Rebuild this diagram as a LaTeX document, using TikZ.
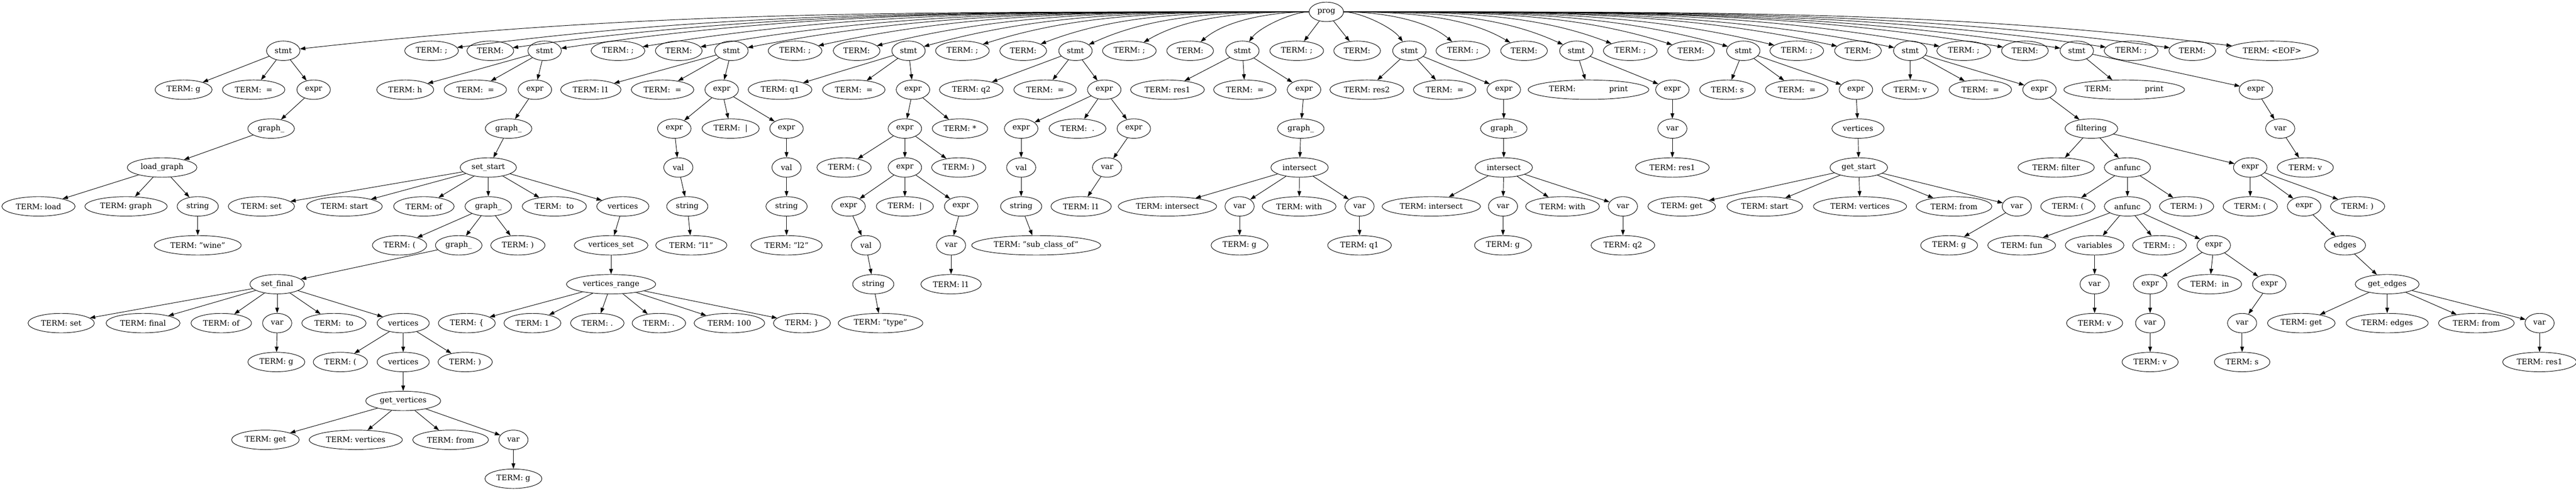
\documentclass[tikz,border=0pt]{standalone}
\usepackage{fontspec}
\setmainfont{DejaVu Serif}
\usetikzlibrary{arrows.meta,shapes.geometric,calc}

\begin{document}
\begin{tikzpicture}[line cap=round,line join=round,>={Triangle[length=10pt,width=7pt]},x=0.75pt,y=-72pt,
  tn/.style={ellipse,draw,line width=0.9pt,minimum width=54pt,minimum height=36pt,inner xsep=6pt,inner ysep=2pt,font=\fontsize{14}{17}\selectfont},
  ed/.style={->,line width=0.9pt}]

\useasboundingbox (0,-0.3056) rectangle (6357,12.3056);

% root and top row
\node[tn] (p) at (3273,0) {prog};
\node[tn] (s1) at (699,1) {stmt};
\node[tn] (sc1) at (1065,1) {TERM: ;};
\node[tn] (nl1) at (1210,1) {TERM:};
\node[tn] (s2) at (1344,1) {stmt};
\node[tn] (sc2) at (1525,1) {TERM: ;};
\node[tn] (nl2) at (1675,1) {TERM:};
\node[tn] (s3) at (1805,1) {stmt};
\node[tn] (sc3) at (1962,1) {TERM: ;};
\node[tn] (nl3) at (2114,1) {TERM:};
\node[tn] (s4) at (2242,1) {stmt};
\node[tn] (sc4) at (2375,1) {TERM: ;};
\node[tn] (nl4) at (2525,1) {TERM:};
\node[tn] (s5) at (2654,1) {stmt};
\node[tn] (sc5) at (2787,1) {TERM: ;};
\node[tn] (nl5) at (2937,1) {TERM:};
\node[tn] (s6) at (3066,1) {stmt};
\node[tn] (sc6) at (3200,1) {TERM: ;};
\node[tn] (nl6) at (3349,1) {TERM:};
\node[tn] (s7) at (3478,1) {stmt};
\node[tn] (sc7) at (3610,1) {TERM: ;};
\node[tn] (nl7) at (3761,1) {TERM:};
\node[tn] (s8) at (3890,1) {stmt};
\node[tn] (sc8) at (4023,1) {TERM: ;};
\node[tn] (nl8) at (4173,1) {TERM:};
\node[tn] (s9) at (4302,1) {stmt};
\node[tn] (sc9) at (4434,1) {TERM: ;};
\node[tn] (nl9) at (4585,1) {TERM:};
\node[tn] (s10) at (4714,1) {stmt};
\node[tn] (sc10) at (4846,1) {TERM: ;};
\node[tn] (nl10) at (4997,1) {TERM:};
\node[tn] (s11) at (5125,1) {stmt};
\node[tn] (sc11) at (5259,1) {TERM: ;};
\node[tn] (nl11) at (5410,1) {TERM:};
\node[tn] (eof) at (5607,1) {TERM: <EOF>};

% stmt 1
\node[tn] (a1) at (453,2) {TERM: g};
\node[tn] (a2) at (626,2) {TERM:\ \ =};
\node[tn] (a3) at (774,2) {expr};
\node[tn] (a4) at (669,3) {graph\_};
\node[tn] (a5) at (400,4) {load\_graph};
\node[tn] (a6) at (95,5) {TERM: load};
\node[tn] (a7) at (311,5) {TERM: graph};
\node[tn] (a8) at (488,5) {string};
\node[tn] (a9) at (488,6) {TERM: "wine"};

% stmt 2
\node[tn] (b1) at (1000,2) {TERM: h};
\node[tn] (b2) at (1173,2) {TERM:\ \ =};
\node[tn] (b3) at (1320,2) {expr};
\node[tn] (b4) at (1255,3) {graph\_};
\node[tn] (b5) at (1205,4) {set\_start};
\node[tn] (b6) at (645,5) {TERM: set};
\node[tn] (b7) at (850,5) {TERM: start};
\node[tn] (b8) at (1046,5) {TERM: of};
\node[tn] (b9) at (1205,5) {graph\_};
\node[tn] (b10) at (1368,5) {TERM:\ \ to};
\node[tn] (b11) at (1537,5) {vertices};
\node[tn] (b12) at (986,6) {TERM: (};
\node[tn] (b13) at (1132,6) {graph\_};
\node[tn] (b14) at (1278,6) {TERM: )};
\node[tn] (b15) at (1508,6) {vertices\_set};
\node[tn] (b16) at (684,7) {set\_final};
\node[tn] (b17) at (1508,7) {vertices\_range};
\node[tn] (b18) at (151,8) {TERM: set};
\node[tn] (b19) at (353,8) {TERM: final};
\node[tn] (b20) at (546,8) {TERM: of};
\node[tn] (b21) at (684,8) {var};
\node[tn] (b22) at (824,8) {TERM:\ \ to};
\node[tn] (b23) at (995,8) {vertices};
\node[tn] (b24) at (1152,8) {TERM: \{};
\node[tn] (b25) at (1314,8) {TERM: 1};
\node[tn] (b26) at (1474,8) {TERM: .};
\node[tn] (b27) at (1626,8) {TERM: .};
\node[tn] (b28) at (1800,8) {TERM: 100};
\node[tn] (b29) at (1979,8) {TERM: \}};
\node[tn] (b30) at (682,9) {TERM: g};
\node[tn] (b31) at (840,9) {TERM: (};
\node[tn] (b32) at (995,9) {vertices};
\node[tn] (b33) at (1148,9) {TERM: )};
\node[tn] (b34) at (995,10) {get\_vertices};
\node[tn] (b35) at (655,11) {TERM: get};
\node[tn] (b36) at (878,11) {TERM: vertices};
\node[tn] (b37) at (1112,11) {TERM: from};
\node[tn] (b38) at (1267,11) {var};
\node[tn] (b39) at (1267,12) {TERM: g};

% stmt 3
\node[tn] (c1) at (1458,2) {TERM: l1};
\node[tn] (c2) at (1635,2) {TERM:\ \ =};
\node[tn] (c3) at (1781,2) {expr};
\node[tn] (c4) at (1664,3) {expr};
\node[tn] (c5) at (1803,3) {TERM:\ \ |};
\node[tn] (c6) at (1941,3) {expr};
\node[tn] (c7) at (1674,4) {val};
\node[tn] (c8) at (1941,4) {val};
\node[tn] (c9) at (1696,5) {string};
\node[tn] (c10) at (1941,5) {string};
\node[tn] (c11) at (1706,6) {TERM: "l1"};
\node[tn] (c12) at (1941,6) {TERM: "l2"};

% stmt 4
\node[tn] (d1) at (1925,2) {TERM: q1};
\node[tn] (d2) at (2107,2) {TERM:\ \ =};
\node[tn] (d3) at (2253,2) {expr};
\node[tn] (d4) at (2233,3) {expr};
\node[tn] (d5) at (2369,3) {TERM: *};
\node[tn] (d6) at (2083,4) {TERM: (};
\node[tn] (d7) at (2233,4) {expr};
\node[tn] (d8) at (2366,4) {TERM: )};
\node[tn] (d9) at (2094,5) {expr};
\node[tn] (d10) at (2233,5) {TERM:\ \ |};
\node[tn] (d11) at (2372,5) {expr};
\node[tn] (d12) at (2137,6) {val};
\node[tn] (d13) at (2347,6) {var};
\node[tn] (d14) at (2155,7) {string};
\node[tn] (d15) at (2347,7) {TERM: l1};
\node[tn] (d16) at (2173,8) {TERM: "type"};

% stmt 5
\node[tn] (e1) at (2397,2) {TERM: q2};
\node[tn] (e2) at (2579,2) {TERM:\ \ =};
\node[tn] (e3) at (2725,2) {expr};
\node[tn] (e4) at (2520,3) {expr};
\node[tn] (e5) at (2659,3) {TERM:\ \ .};
\node[tn] (e6) at (2798,3) {expr};
\node[tn] (e7) at (2520,4) {val};
\node[tn] (e8) at (2732,4) {var};
\node[tn] (e9) at (2520,5) {string};
\node[tn] (e10) at (2668,5) {TERM: l1};
\node[tn] (e11) at (2557,6) {TERM: "sub\_class\_of"};

% stmt 6
\node[tn] (f1) at (2881,2) {TERM: res1};
\node[tn] (f2) at (3072,2) {TERM:\ \ =};
\node[tn] (f3) at (3218,2) {expr};
\node[tn] (f4) at (3210,3) {graph\_};
\node[tn] (f5) at (3207,4) {intersect};
\node[tn] (f6) at (2881,5) {TERM: intersect};
\node[tn] (f7) at (3059,5) {var};
\node[tn] (f8) at (3206,5) {TERM: with};
\node[tn] (f9) at (3355,5) {var};
\node[tn] (f10) at (3059,6) {TERM: g};
\node[tn] (f11) at (3355,6) {TERM: q1};

% stmt 7
\node[tn] (g1) at (3373,2) {TERM: res2};
\node[tn] (g2) at (3565,2) {TERM:\ \ =};
\node[tn] (g3) at (3711,2) {expr};
\node[tn] (g4) at (3711,3) {graph\_};
\node[tn] (g5) at (3711,4) {intersect};
\node[tn] (g6) at (3532,5) {TERM: intersect};
\node[tn] (g7) at (3709,5) {var};
\node[tn] (g8) at (3856,5) {TERM: with};
\node[tn] (g9) at (4005,5) {var};
\node[tn] (g10) at (3709,6) {TERM: g};
\node[tn] (g11) at (4005,6) {TERM: q2};

% stmt 8
\node[tn] (h1) at (3920,2) {TERM:\hspace{62pt}print};
\node[tn] (h2) at (4127,2) {expr};
\node[tn] (h3) at (4127,3) {var};
\node[tn] (h4) at (4127,4) {TERM: res1};

% stmt 9
\node[tn] (k1) at (4263,2) {TERM: s};
\node[tn] (k2) at (4434,2) {TERM:\ \ =};
\node[tn] (k3) at (4580,2) {expr};
\node[tn] (k4) at (4585,3) {vertices};
\node[tn] (k5) at (4587,4) {get\_start};
\node[tn] (k6) at (4150,5) {TERM: get};
\node[tn] (k7) at (4355,5) {TERM: start};
\node[tn] (k8) at (4590,5) {TERM: vertices};
\node[tn] (k9) at (4822,5) {TERM: from};
\node[tn] (k10) at (4977,5) {var};
\node[tn] (k11) at (4810,6) {TERM: g};

% stmt 10
\node[tn] (m1) at (4714,2) {TERM: v};
\node[tn] (m2) at (4887,2) {TERM:\ \ =};
\node[tn] (m3) at (5033,2) {expr};
\node[tn] (m4) at (5161,3) {filtering};
\node[tn] (m5) at (5074,4) {TERM: filter};
\node[tn] (m6) at (5250,4) {anfunc};
\node[tn] (m7) at (5553,4) {expr};
\node[tn] (m8) at (5103,5) {TERM: (};
\node[tn] (m9) at (5250,5) {anfunc};
\node[tn] (m10) at (5396,5) {TERM: )};
\node[tn] (m11) at (5553,5) {TERM: (};
\node[tn] (m12) at (5686,5) {expr};
\node[tn] (m13) at (5818,5) {TERM: )};
\node[tn] (m14) at (4989,6) {TERM: fun};
\node[tn] (m15) at (5169,6) {variables};
\node[tn] (m16) at (5329,6) {TERM: :};
\node[tn] (m17) at (5463,6) {expr};
\node[tn] (m18) at (5787,6) {edges};
\node[tn] (m19) at (5169,7) {var};
\node[tn] (m20) at (5306,7) {expr};
\node[tn] (m21) at (5453,7) {TERM:\ \ in};
\node[tn] (m22) at (5600,7) {expr};
\node[tn] (m23) at (5891,7) {get\_edges};
\node[tn] (m24) at (5169,8) {TERM: v};
\node[tn] (m25) at (5306,8) {var};
\node[tn] (m26) at (5533,8) {var};
\node[tn] (m27) at (5679,8) {TERM: get};
\node[tn] (m28) at (5891,8) {TERM: edges};
\node[tn] (m29) at (6111,8) {TERM: from};
\node[tn] (m30) at (6267,8) {var};
\node[tn] (m31) at (5306,9) {TERM: v};
\node[tn] (m32) at (5533,9) {TERM: s};
\node[tn] (m33) at (6267,9) {TERM: res1};

% stmt 11
\node[tn] (n1) at (5242,2) {TERM:\hspace{62pt}print};
\node[tn] (n2) at (5567,2) {expr};
\node[tn] (n3) at (5627,3) {var};
\node[tn] (n4) at (5689,4) {TERM: v};

% edges from the root
\draw[ed] (p) .. controls ($(p)+(-772pt,0pt)$) and ($(s1)+(672pt,75pt)$) .. (s1);
\draw[ed] (p) .. controls ($(p)+(-662pt,0pt)$) and ($(sc1)+(575pt,75pt)$) .. (sc1);
\draw[ed] (p) .. controls ($(p)+(-619pt,0pt)$) and ($(nl1)+(536pt,74pt)$) .. (nl1);
\draw[ed] (p) .. controls ($(p)+(-579pt,0pt)$) and ($(s2)+(500pt,75pt)$) .. (s2);
\draw[ed] (p) .. controls ($(p)+(-524pt,0pt)$) and ($(sc2)+(453pt,75pt)$) .. (sc2);
\draw[ed] (p) .. controls ($(p)+(-479pt,0pt)$) and ($(nl2)+(412pt,74pt)$) .. (nl2);
\draw[ed] (p) .. controls ($(p)+(-440pt,0pt)$) and ($(s3)+(378pt,74pt)$) .. (s3);
\draw[ed] (p) .. controls ($(p)+(-393pt,0pt)$) and ($(sc3)+(336pt,74pt)$) .. (sc3);
\draw[ed] (p) .. controls ($(p)+(-348pt,0pt)$) and ($(nl3)+(295pt,74pt)$) .. (nl3);
\draw[ed] (p) .. controls ($(p)+(-309pt,0pt)$) and ($(s4)+(261pt,73pt)$) .. (s4);
\draw[ed] (p) .. controls ($(p)+(-269pt,0pt)$) and ($(sc4)+(225pt,72pt)$) .. (sc4);
\draw[ed] (p) .. controls ($(p)+(-224pt,0pt)$) and ($(nl4)+(183pt,71pt)$) .. (nl4);
\draw[ed] (p) .. controls ($(p)+(-186pt,0pt)$) and ($(s5)+(147pt,68pt)$) .. (s5);
\draw[ed] (p) .. controls ($(p)+(-146pt,0pt)$) and ($(sc5)+(110pt,65pt)$) .. (sc5);
\draw[ed] (p) .. controls ($(p)+(-101pt,0pt)$) and ($(nl5)+(67pt,57pt)$) .. (nl5);
\draw[ed] (p) .. controls ($(p)+(-62pt,0pt)$) and ($(s6)+(32pt,44pt)$) .. (s6);
\draw[ed] (p) -- (sc6);
\draw[ed] (p) -- (nl6);
\draw[ed] (p) .. controls ($(p)+(62pt,0pt)$) and ($(s7)+(-32pt,44pt)$) .. (s7);
\draw[ed] (p) .. controls ($(p)+(101pt,0pt)$) and ($(sc7)+(-67pt,57pt)$) .. (sc7);
\draw[ed] (p) .. controls ($(p)+(146pt,0pt)$) and ($(nl7)+(-110pt,65pt)$) .. (nl7);
\draw[ed] (p) .. controls ($(p)+(185pt,0pt)$) and ($(s8)+(-147pt,68pt)$) .. (s8);
\draw[ed] (p) .. controls ($(p)+(225pt,0pt)$) and ($(sc8)+(-184pt,71pt)$) .. (sc8);
\draw[ed] (p) .. controls ($(p)+(270pt,0pt)$) and ($(nl8)+(-225pt,72pt)$) .. (nl8);
\draw[ed] (p) .. controls ($(p)+(309pt,0pt)$) and ($(s9)+(-260pt,73pt)$) .. (s9);
\draw[ed] (p) .. controls ($(p)+(348pt,0pt)$) and ($(sc9)+(-296pt,73pt)$) .. (sc9);
\draw[ed] (p) .. controls ($(p)+(394pt,0pt)$) and ($(nl9)+(-336pt,74pt)$) .. (nl9);
\draw[ed] (p) .. controls ($(p)+(432pt,0pt)$) and ($(s10)+(-371pt,74pt)$) .. (s10);
\draw[ed] (p) .. controls ($(p)+(472pt,0pt)$) and ($(sc10)+(-406pt,75pt)$) .. (sc10);
\draw[ed] (p) .. controls ($(p)+(517pt,0pt)$) and ($(nl10)+(-446pt,75pt)$) .. (nl10);
\draw[ed] (p) .. controls ($(p)+(556pt,0pt)$) and ($(s11)+(-480pt,74pt)$) .. (s11);
\draw[ed] (p) .. controls ($(p)+(596pt,0pt)$) and ($(sc11)+(-516pt,74pt)$) .. (sc11);
\draw[ed] (p) .. controls ($(p)+(641pt,0pt)$) and ($(nl11)+(-556pt,75pt)$) .. (nl11);
\draw[ed] (p) .. controls ($(p)+(700pt,0pt)$) and ($(eof)+(-608pt,75pt)$) .. (eof);

\path (s1) edge[ed] (a1) edge[ed] (a2) edge[ed] (a3);
\draw[ed] (a3) -- (a4);
\draw[ed] (a4) -- (a5);
\path (a5) edge[ed] (a6) edge[ed] (a7) edge[ed] (a8);
\draw[ed] (a8) -- (a9);

\path (s2) edge[ed] (b1) edge[ed] (b2) edge[ed] (b3);
\draw[ed] (b3) -- (b4);
\draw[ed] (b4) -- (b5);
\path (b5) edge[ed] (b6) edge[ed] (b7) edge[ed] (b8) edge[ed] (b9) edge[ed] (b10) edge[ed] (b11);
\path (b9) edge[ed] (b12) edge[ed] (b13) edge[ed] (b14);
\draw[ed] (b13) -- (b16);
\path (b16) edge[ed] (b18) edge[ed] (b19) edge[ed] (b20) edge[ed] (b21) edge[ed] (b22) edge[ed] (b23);
\draw[ed] (b21) -- (b30);
\path (b23) edge[ed] (b31) edge[ed] (b32) edge[ed] (b33);
\draw[ed] (b32) -- (b34);
\path (b34) edge[ed] (b35) edge[ed] (b36) edge[ed] (b37) edge[ed] (b38);
\draw[ed] (b38) -- (b39);
\draw[ed] (b11) -- (b15);
\draw[ed] (b15) -- (b17);
\path (b17) edge[ed] (b24) edge[ed] (b25) edge[ed] (b26) edge[ed] (b27) edge[ed] (b28) edge[ed] (b29);

\path (s3) edge[ed] (c1) edge[ed] (c2) edge[ed] (c3);
\path (c3) edge[ed] (c4) edge[ed] (c5) edge[ed] (c6);
\draw[ed] (c4) -- (c7);
\draw[ed] (c7) -- (c9);
\draw[ed] (c9) -- (c11);
\draw[ed] (c6) -- (c8);
\draw[ed] (c8) -- (c10);
\draw[ed] (c10) -- (c12);

\path (s4) edge[ed] (d1) edge[ed] (d2) edge[ed] (d3);
\path (d3) edge[ed] (d4) edge[ed] (d5);
\path (d4) edge[ed] (d6) edge[ed] (d7) edge[ed] (d8);
\path (d7) edge[ed] (d9) edge[ed] (d10) edge[ed] (d11);
\draw[ed] (d9) -- (d12);
\draw[ed] (d12) -- (d14);
\draw[ed] (d14) -- (d16);
\draw[ed] (d11) -- (d13);
\draw[ed] (d13) -- (d15);

\path (s5) edge[ed] (e1) edge[ed] (e2) edge[ed] (e3);
\path (e3) edge[ed] (e4) edge[ed] (e5) edge[ed] (e6);
\draw[ed] (e4) -- (e7);
\draw[ed] (e7) -- (e9);
\draw[ed] (e9) -- (e11);
\draw[ed] (e6) -- (e8);
\draw[ed] (e8) -- (e10);

\path (s6) edge[ed] (f1) edge[ed] (f2) edge[ed] (f3);
\draw[ed] (f3) -- (f4);
\draw[ed] (f4) -- (f5);
\path (f5) edge[ed] (f6) edge[ed] (f7) edge[ed] (f8) edge[ed] (f9);
\draw[ed] (f7) -- (f10);
\draw[ed] (f9) -- (f11);

\path (s7) edge[ed] (g1) edge[ed] (g2) edge[ed] (g3);
\draw[ed] (g3) -- (g4);
\draw[ed] (g4) -- (g5);
\path (g5) edge[ed] (g6) edge[ed] (g7) edge[ed] (g8) edge[ed] (g9);
\draw[ed] (g7) -- (g10);
\draw[ed] (g9) -- (g11);

\path (s8) edge[ed] (h1) edge[ed] (h2);
\draw[ed] (h2) -- (h3);
\draw[ed] (h3) -- (h4);

\path (s9) edge[ed] (k1) edge[ed] (k2) edge[ed] (k3);
\draw[ed] (k3) -- (k4);
\draw[ed] (k4) -- (k5);
\path (k5) edge[ed] (k6) edge[ed] (k7) edge[ed] (k8) edge[ed] (k9) edge[ed] (k10);
\draw[ed] (k10) -- (k11);

\path (s10) edge[ed] (m1) edge[ed] (m2) edge[ed] (m3);
\draw[ed] (m3) -- (m4);
\path (m4) edge[ed] (m5) edge[ed] (m6) edge[ed] (m7);
\path (m6) edge[ed] (m8) edge[ed] (m9) edge[ed] (m10);
\path (m9) edge[ed] (m14) edge[ed] (m15) edge[ed] (m16) edge[ed] (m17);
\draw[ed] (m15) -- (m19);
\draw[ed] (m19) -- (m24);
\path (m17) edge[ed] (m20) edge[ed] (m21) edge[ed] (m22);
\draw[ed] (m20) -- (m25);
\draw[ed] (m25) -- (m31);
\draw[ed] (m22) -- (m26);
\draw[ed] (m26) -- (m32);
\path (m7) edge[ed] (m11) edge[ed] (m12) edge[ed] (m13);
\draw[ed] (m12) -- (m18);
\draw[ed] (m18) -- (m23);
\path (m23) edge[ed] (m27) edge[ed] (m28) edge[ed] (m29) edge[ed] (m30);
\draw[ed] (m30) -- (m33);

\path (s11) edge[ed] (n1) edge[ed] (n2);
\draw[ed] (n2) -- (n3);
\draw[ed] (n3) -- (n4);

\end{tikzpicture}
\end{document}
